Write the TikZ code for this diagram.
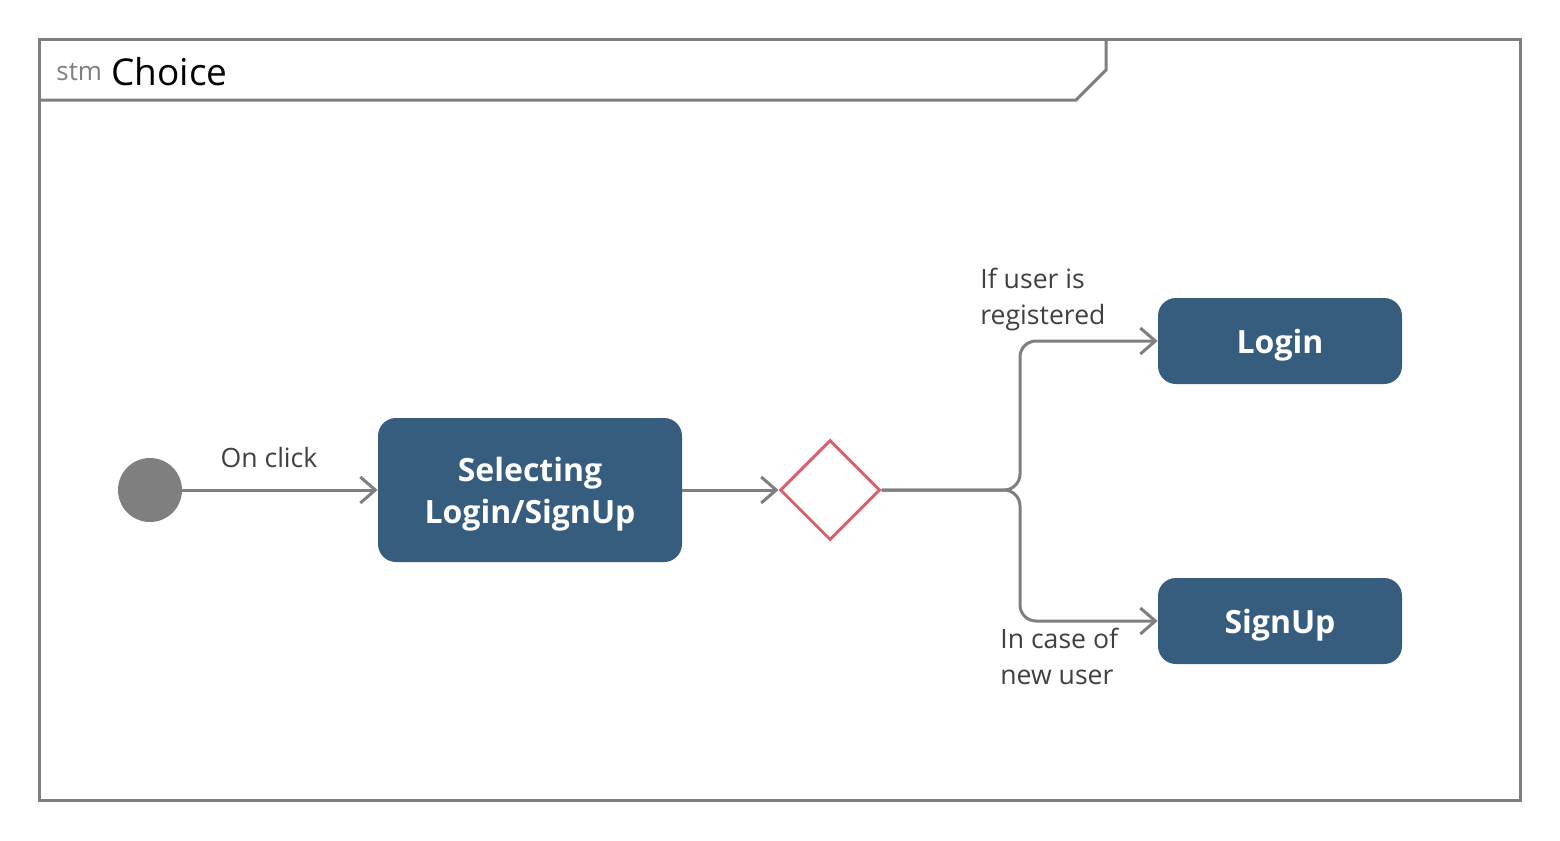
\documentclass[tikz,border=0pt]{standalone}
\usepackage{fontspec}
\setmainfont{Open Sans}
\usetikzlibrary{arrows.meta,shapes.geometric}
\definecolor{linegray}{HTML}{7F7F7F}
\definecolor{statefill}{HTML}{365C7E}
\definecolor{choicered}{HTML}{D6626E}
\definecolor{labelgray}{HTML}{404040}
\tikzset{
  state/.style={draw=none, fill=statefill, rounded corners=9pt, text=white,
    font=\fontsize{16}{21}\selectfont\bfseries, align=center, text depth=0pt},
  trans/.style={draw=linegray, line width=1.5pt,
    -{Straight Barb[length=7.5pt,width=13pt,line width=1.5pt]}},
  guard/.style={text=labelgray, font=\fontsize{13.3}{18}\selectfont, align=left}
}
\begin{document}
\begin{tikzpicture}[x=0.5pt, y=-0.5pt]
            \useasboundingbox (0,0) rectangle (1560,841);
            % Frame
            \draw[linegray, line width=1.5pt] (39,39) rectangle (1520,800);
            \draw[linegray, line width=1.5pt] (39,100) -- (1076,100) -- (1106,70) -- (1106,39);
            \node[anchor=base west, inner sep=0, text=linegray, font=\fontsize{13}{15}\selectfont] (stm) at (56,80) {stm};
            \node[anchor=base west, inner sep=0, font=\fontsize{18.5}{20}\selectfont] (title) at (111,85) {Choice};

            % States
            \node[circle, fill=linegray, minimum size=32pt, inner sep=0] (init) at (150,490) {};
            \node[state, minimum width=152pt, minimum height=72pt] (select) at (530,490) {Selecting\\Login/SignUp};
            \node[draw=choicered, line width=1.5pt, diamond, minimum width=50pt, minimum height=50pt, inner sep=0] (choice) at (830,490) {};
            \node[state, minimum width=122pt, minimum height=43pt] (login) at (1280,341) {Login};
            \node[state, minimum width=122pt, minimum height=43pt] (signup) at (1280,621) {SignUp};
            \coordinate (fork) at (1020,490);

            % Transitions
            \draw[trans] (init) -- (select.west) node[guard, midway, above=7pt, xshift=-5.5pt] {On click};
            \draw[trans] (select.east) -- (choice.west);
            \draw[trans, rounded corners=8pt] (choice.east) -- (fork) |- (login.west);
            \draw[trans, rounded corners=8pt] (choice.east) -- (fork) |- (signup.west);

            % Guards
            \node[guard, anchor=north west, inner sep=0] (reg) at (980,268) {If user is\\registered};
            \node[guard, anchor=north west, inner sep=0] (new) at (1000,628) {In case of\\new user};
        \end{tikzpicture}
\end{document}
